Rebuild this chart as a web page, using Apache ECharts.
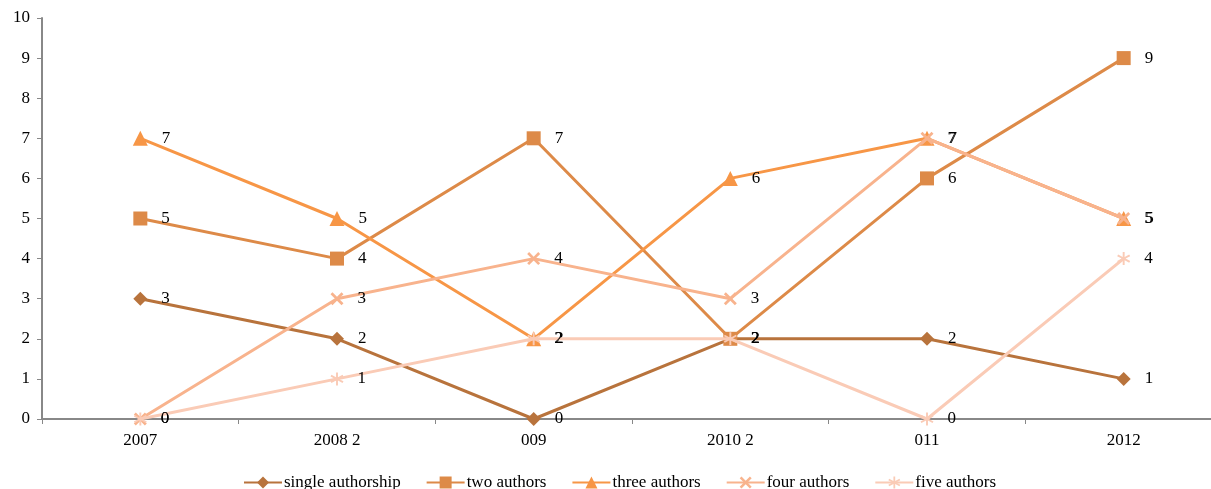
<!DOCTYPE html>
<html><head><meta charset="utf-8">
<script src="https://cdn.jsdelivr.net/npm/echarts@6/dist/echarts.min.js"></script>
<style>html,body{margin:0;padding:0;background:#fff;overflow:hidden;width:1211px;height:489px}#c{width:1222px;height:489px}</style>
</head><body><div id="c"></div>
<script>
const categories = ["2007", "2008 2", "009", "2010 2", "011", "2012"];
const seriesNames = ["single authorship", "two authors", "three authors", "four authors", "five authors"];
const single = [3, 2, 0, 2, 2, 1];
const two = [5, 4, 7, 2, 6, 9];
const three = [7, 5, 2, 6, 7, 5];
const four = [0, 3, 4, 3, 7, 5];
const five = [0, 1, 2, 2, 0, 4];
const yTicks = [0, 10, 1];

const colors = ["#B8733C", "#DD8A48", "#F79646", "#F8B38D", "#FACBB6"];
const xPath = 'path://M0,1.5L1.5,0L5,3.5L8.5,0L10,1.5L6.5,5L10,8.5L8.5,10L5,6.5L1.5,10L0,8.5L3.5,5Z';
const starPath = 'path://M4.3,0H5.7V3.8L9,1.9L9.7,3.1L6.4,5L9.7,6.9L9,8.1L5.7,6.2V10H4.3V6.2L1,8.1L0.3,6.9L3.6,5L0.3,3.1L1,1.9L4.3,3.8Z';
const symbols = ['diamond', 'rect', 'triangle', xPath, starPath];
const sizes = [14, 14, 15, 13, 13];
const data = [single, two, three, four, five];
const font = '"Liberation Serif", "DejaVu Serif", serif';

const chart = echarts.init(document.getElementById('c'));
chart.setOption({
  animation: false,
  textStyle: { fontFamily: font },
  grid: { left: 42, right: 0, top: 18, bottom: 70 },
  legend: {
    bottom: -7, left: 238, itemWidth: 38, itemHeight: 15, itemGap: 25,
    textStyle: { fontFamily: font, fontSize: 17, color: '#000', padding: [0, 0, 0, -3] },
    data: seriesNames
  },
  xAxis: {
    type: 'category', data: categories, boundaryGap: true,
    axisLine: { lineStyle: { color: '#888', width: 2 } },
    axisTick: { show: true, length: 5, lineStyle: { color: '#888', width: 1 } },
    axisLabel: { color: '#000', fontSize: 17, fontFamily: font, margin: 13 }
  },
  yAxis: {
    type: 'value', min: yTicks[0], max: yTicks[1], interval: yTicks[2],
    splitLine: { show: false },
    axisLine: { show: true, lineStyle: { color: '#888', width: 2 } },
    axisTick: { show: true, length: 5, lineStyle: { color: '#888', width: 1 } },
    axisLabel: { color: '#000', fontSize: 17, fontFamily: font, margin: 12 }
  },
  series: seriesNames.map((n, i) => ({
    name: n, type: 'line', data: data[i],
    symbol: symbols[i], symbolSize: sizes[i], showAllSymbol: true,
    lineStyle: { color: colors[i], width: 3 },
    itemStyle: { color: colors[i] },
    label: { show: true, position: 'right', distance: 14, color: '#000', fontSize: 17, fontFamily: font },
    z: 2 + i
  }))
});
</script></body></html>
